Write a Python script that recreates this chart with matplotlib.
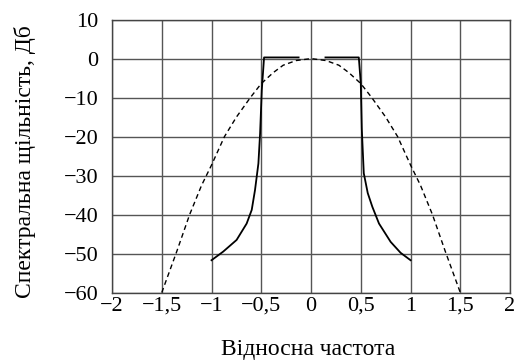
import numpy as np
import matplotlib
matplotlib.use("Agg")
import matplotlib.pyplot as plt
from matplotlib.ticker import FuncFormatter

plt.rcParams['font.family'] = ['Liberation Serif', 'DejaVu Serif']

# спектр сигналу (суцільна лінія), ліва та права частини
solid_left_x = [-1.0, -0.883, -0.748, -0.647, -0.596, -0.563, -0.529, -0.512, -0.495, -0.472, -0.125]
solid_left_y = [-51.7, -49.5, -46.5, -42.3, -38.8, -33.7, -26.9, -19.2, -8.1, 0.3, 0.3]
solid_right_x = [0.145, 0.48, 0.50, 0.51, 0.53, 0.57, 0.616, 0.683, 0.80, 0.90, 1.0]
solid_right_y = [0.3, 0.3, -6.4, -18.0, -29.4, -34.5, -38.0, -42.3, -47.0, -49.8, -51.7]

# гаусова огинаюча (пунктир)
dash_x = [-1.5, -1.35, -1.22, -1.1, -1.0, -0.87, -0.75, -0.61, -0.5, -0.38, -0.28, -0.15, 0.0,
          0.15, 0.28, 0.38, 0.5, 0.61, 0.75, 0.87, 1.0, 1.1, 1.22, 1.35, 1.5]
dash_y = [-60, -49.5, -40, -32.5, -27.3, -20, -15, -10, -6.4, -3.6, -1.7, -0.5, 0.0,
          -0.5, -1.7, -3.6, -6.4, -10, -15, -20, -27.3, -32.5, -40, -49.5, -60]

xticks = [-2, -1.5, -1, -0.5, 0, 0.5, 1, 1.5, 2]
yticks = [10, 0, -10, -20, -30, -40, -50, -60]


def fmt(v, pos=None):
    s = ('%g' % v).replace('.', ',')
    return s.replace('-', '\u2212')


fig = plt.figure(figsize=(5.21, 3.63), dpi=100)
ax = fig.add_axes([0.215, 0.194, 0.764, 0.752])

ax.plot(solid_left_x, solid_left_y, color='black', lw=1.3)
ax.plot(solid_right_x, solid_right_y, color='black', lw=1.3)
ax.plot(dash_x, dash_y, color='black', lw=1.0, ls=(0, (3.5, 2.5)))

ax.set_xlim(-2, 2)
ax.set_ylim(-60, 10)
ax.set_xticks(xticks)
ax.set_yticks(yticks)
ax.xaxis.set_major_formatter(FuncFormatter(fmt))
ax.yaxis.set_major_formatter(FuncFormatter(fmt))
ax.tick_params(length=0, labelsize=16)
ax.tick_params(axis='y', pad=10)
ax.tick_params(axis='x', pad=3)
ax.grid(True, color='#555555', lw=1.0)
for sp in ax.spines.values():
    sp.set_color('#444444')
    sp.set_linewidth(1.0)

fig.text(0.048, 0.556, 'Спектральна щільність, Дб', rotation=90,
         ha='center', va='center', fontsize=17)
fig.text(0.592, 0.036, 'Відносна частота', ha='center', va='center', fontsize=17)

fig.savefig('out.png', dpi=100)
